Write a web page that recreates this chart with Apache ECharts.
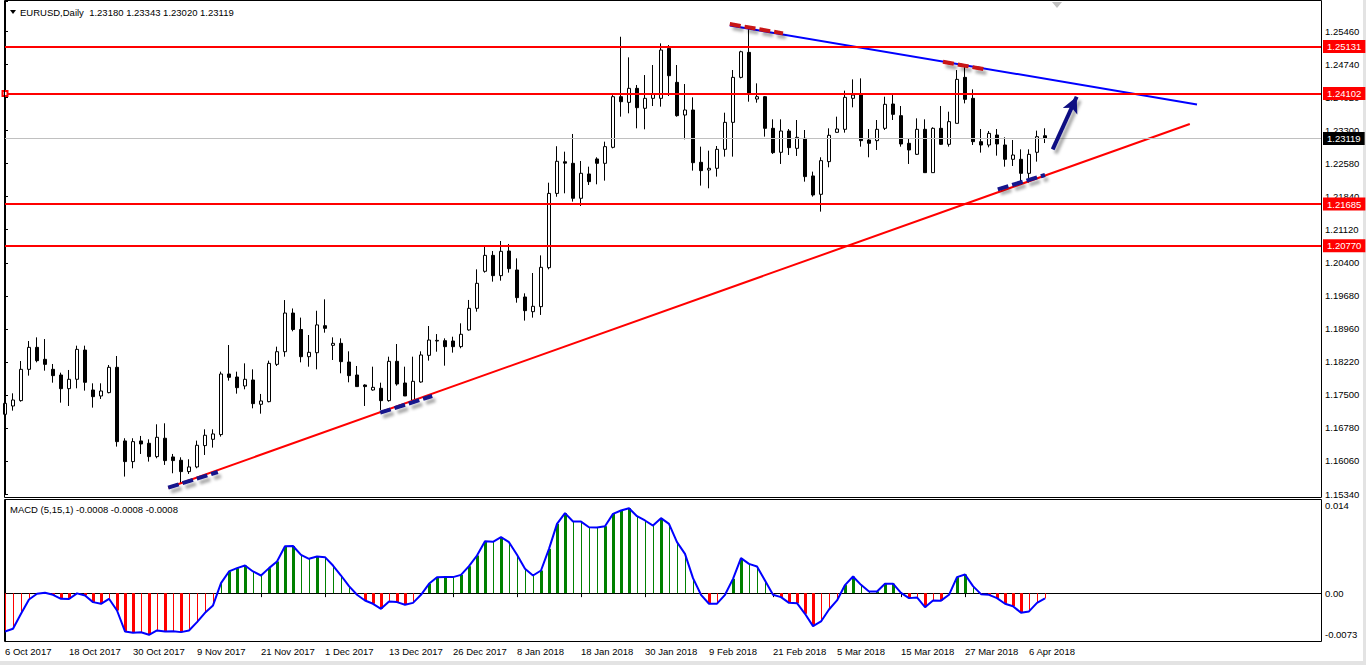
<!DOCTYPE html>
<html><head><meta charset="utf-8">
<script src="https://cdn.jsdelivr.net/npm/echarts@6/dist/echarts.min.js"></script>
<style>html,body{margin:0;padding:0;background:#fff;overflow:hidden}#c{width:1366px;height:665px}</style>
</head><body><div id="c"></div>
<script>
// ---------- data ----------
const tickLabels = ['6 Oct 2017','18 Oct 2017','30 Oct 2017','9 Nov 2017','21 Nov 2017','1 Dec 2017','13 Dec 2017','26 Dec 2017','8 Jan 2018','18 Jan 2018','30 Jan 2018','9 Feb 2018','21 Feb 2018','5 Mar 2018','15 Mar 2018','27 Mar 2018','6 Apr 2018'];
const priceTicks = ['1.15340','1.16060','1.16780','1.17500','1.18220','1.18960','1.19680','1.20400','1.21120','1.21840','1.22580','1.23300','1.24020','1.24740','1.25460'];
const macdTicks = ['-0.0073','0.00','','0.014'];

const open = [1.17084,1.17266,1.17383,1.18068,1.18549,1.18287,1.18068,1.17944,1.17645,1.17850,
1.18490,1.17616,1.17485,1.17558,1.18112,1.16501,1.16049,1.16501,1.16450,1.16158,
1.16560,1.16151,1.16078,1.15830,1.15932,1.16399,1.16537,1.16640,1.17966,1.17900,
1.17704,1.17835,1.17303,1.17361,1.18177,1.18454,1.19300,1.18940,1.18345,1.18432,
1.19023,1.18593,1.18637,1.18228,1.17944,1.17725,1.17616,1.17653,1.17383,1.18243,
1.17769,1.17390,1.17791,1.18374,1.18688,1.18695,1.18688,1.18565,1.18930,1.19403,
1.20213,1.20562,1.20118,1.20657,1.20242,1.19651,1.19330,1.19440,1.20293,1.21918,
1.22610,1.22576,1.21811,1.22343,1.22671,1.22576,1.22926,1.24034,1.23910,1.24217,
1.23780,1.23998,1.23998,1.25091,1.24348,1.23633,1.23743,1.22598,1.22430,1.22467,
1.22882,1.23473,1.24457,1.25004,1.23983,1.24034,1.23342,1.22817,1.23283,1.22904,
1.23123,1.22300,1.21898,1.22613,1.23254,1.23320,1.23998,1.24093,1.23087,1.23072,
1.23342,1.23874,1.23619,1.23014,1.22773,1.23320,1.22372,1.23342,1.22992,1.23451,
1.24457,1.23998,1.23050,1.22977,1.23196,1.22977,1.22664,1.22664,1.22357,1.22817,
1.23180];
const high = [1.17361,1.17543,1.18250,1.18688,1.18768,1.18731,1.18185,1.17995,1.18054,1.18586,
1.18586,1.17762,1.17762,1.18163,1.18360,1.16560,1.16560,1.16610,1.16537,1.16865,
1.16887,1.16216,1.16143,1.16100,1.16508,1.16756,1.16756,1.18017,1.18600,1.18017,
1.18199,1.18068,1.17529,1.18258,1.18564,1.19584,1.19400,1.19200,1.18819,1.19350,
1.19600,1.18768,1.18746,1.18462,1.18141,1.17740,1.18126,1.17776,1.18345,1.18622,
1.18126,1.18345,1.18462,1.19016,1.18840,1.18746,1.18782,1.19075,1.19586,1.20256,
1.20752,1.20657,1.20876,1.20810,1.20497,1.19731,1.20176,1.20562,1.22152,1.22950,
1.22831,1.23218,1.22627,1.22503,1.22708,1.23050,1.24070,1.25346,1.24895,1.24290,
1.24508,1.24727,1.25201,1.25164,1.24727,1.24311,1.24020,1.22941,1.22853,1.22955,
1.23684,1.24618,1.25040,1.25550,1.24326,1.24049,1.23539,1.23539,1.23327,1.23524,
1.23305,1.22394,1.22708,1.23342,1.23597,1.24166,1.24413,1.24435,1.23327,1.23524,
1.24034,1.24093,1.23830,1.23123,1.23560,1.23539,1.23364,1.23830,1.23706,1.24617,
1.24727,1.24195,1.23327,1.23283,1.23327,1.23145,1.23086,1.22882,1.22882,1.23291,
1.23343];
const low = [1.16683,1.17164,1.17361,1.17930,1.18221,1.18039,1.17776,1.17339,1.17266,1.17653,
1.17602,1.17230,1.17419,1.17543,1.16377,1.15721,1.15903,1.16216,1.16049,1.16122,
1.15976,1.15794,1.15560,1.15779,1.15903,1.16194,1.16355,1.16596,1.17820,1.17536,
1.17631,1.17215,1.17098,1.17346,1.18141,1.18345,1.18900,1.18221,1.18126,1.18068,
1.18870,1.18272,1.17981,1.17784,1.17690,1.17266,1.17602,1.17179,1.17361,1.17711,
1.17485,1.17376,1.17776,1.18258,1.18454,1.18148,1.18433,1.18529,1.18915,1.19330,
1.20184,1.19987,1.20008,1.20184,1.19527,1.19134,1.19199,1.19258,1.20256,1.21845,
1.21920,1.21738,1.21643,1.22102,1.22117,1.22197,1.22904,1.23597,1.23670,1.23342,
1.23320,1.23830,1.23816,1.24049,1.23597,1.23101,1.22416,1.22088,1.22030,1.22285,
1.22722,1.22722,1.24435,1.23925,1.23903,1.23160,1.22781,1.22562,1.22759,1.22737,
1.22175,1.21847,1.21519,1.22489,1.23247,1.23247,1.23801,1.22941,1.22708,1.22868,
1.23305,1.23524,1.22941,1.22562,1.22759,1.22372,1.22372,1.22977,1.22941,1.23451,
1.23888,1.22977,1.22810,1.22926,1.22744,1.22503,1.22518,1.22153,1.22153,1.22613,
1.23020];
const close = [1.17324,1.17397,1.18068,1.18549,1.18258,1.18177,1.17930,1.17645,1.17850,1.18505,
1.17784,1.17470,1.17594,1.18112,1.16486,1.16049,1.16486,1.16435,1.16158,1.16581,
1.16071,1.16071,1.15830,1.15932,1.16406,1.16625,1.16654,1.17966,1.17893,1.17667,
1.17850,1.17317,1.17376,1.18199,1.18454,1.19300,1.18940,1.18345,1.18440,1.19040,
1.18965,1.18637,1.18236,1.17930,1.17690,1.17690,1.17674,1.17383,1.18243,1.17747,
1.17485,1.17806,1.18382,1.18709,1.18702,1.18564,1.18564,1.18835,1.19403,1.19950,
1.20562,1.20118,1.20650,1.20271,1.19637,1.19352,1.19447,1.20300,1.21918,1.22620,
1.22580,1.21811,1.22358,1.22175,1.22576,1.22941,1.24034,1.23925,1.24217,1.23794,
1.23998,1.24093,1.25055,1.24494,1.23619,1.23743,1.22590,1.22416,1.22467,1.22882,
1.23473,1.24457,1.25018,1.24093,1.24034,1.23342,1.22810,1.23283,1.22919,1.23145,
1.22285,1.21884,1.22635,1.23189,1.23327,1.24020,1.24070,1.23072,1.23014,1.23320,
1.23867,1.23648,1.22999,1.22868,1.23320,1.22372,1.23342,1.22992,1.23488,1.24413,
1.23976,1.23050,1.22977,1.23232,1.22999,1.22664,1.22758,1.22357,1.22773,1.23159,
1.23119];
const macd = [-0.00576,-0.00536,-0.00311,-0.00096,-0.00010,0.00005,-0.00025,-0.00085,-0.00089,-0.00004,
-0.00035,-0.00135,-0.00160,-0.00085,-0.00261,-0.00576,-0.00596,-0.00589,-0.00626,-0.00561,
-0.00576,-0.00572,-0.00586,-0.00561,-0.00436,-0.00296,-0.00185,0.00150,0.00326,0.00376,
0.00415,0.00326,0.00265,0.00376,0.00476,0.00706,0.00708,0.00576,0.00516,0.00551,
0.00541,0.00415,0.00265,0.00105,-0.00025,-0.00110,-0.00160,-0.00236,-0.00125,-0.00135,
-0.00175,-0.00146,-0.00025,0.00140,0.00240,0.00243,0.00241,0.00275,0.00405,0.00566,
0.00781,0.00772,0.00841,0.00766,0.00576,0.00365,0.00265,0.00340,0.00666,0.01041,
0.01202,0.01077,0.01075,0.00991,0.00987,0.01006,0.01192,0.01242,0.01277,0.01156,
0.01092,0.01016,0.01127,0.01041,0.00766,0.00591,0.00225,-0.00025,-0.00160,-0.00158,
-0.00025,0.00215,0.00526,0.00440,0.00401,0.00190,-0.00025,-0.00060,-0.00146,-0.00151,
-0.00311,-0.00496,-0.00426,-0.00246,-0.00110,0.00121,0.00250,0.00125,0.00025,0.00026,
0.00140,0.00142,0.00005,-0.00075,-0.00065,-0.00211,-0.00110,-0.00113,-0.00025,0.00240,
0.00280,0.00105,-0.00015,-0.00025,-0.00075,-0.00160,-0.00196,-0.00296,-0.00275,-0.00146,
-0.00080];
const levels = [1.25131, 1.24102, 1.21685, 1.20770];
const lastPrice = 1.23119;
const headerText = 'EURUSD,Daily  1.23180 1.23343 1.23020 1.23119';
const macdText = 'MACD (5,15,1) -0.0008 -0.0008 -0.0008';
// annotation anchors: [bar index, price]
const risingTrend = [[20.4, 1.15478], [148.1, 1.23436]];
const fallingTrend = [[90.6, 1.25593], [149.0, 1.23864]];
const lowMarks = [[[20.4, 1.15478], [26.6, 1.15821]], [[46.9, 1.17119], [53.4, 1.17484]], [[124.1, 1.22007], [130.0, 1.22320]]];
const highMarks = [[[90.6, 1.25624], [97.25, 1.25420]], [[117.25, 1.24799], [122.5, 1.24632]]];
const arrowPts = [[130.96, 1.22882], [133.96, 1.24033]];

// ---------- chart ----------
const FONT = '"Liberation Sans", Arial, sans-serif';
const FS = 9.5;
const chart = echarts.init(document.getElementById('c'), null, {renderer: 'svg'});

const candles = open.map((o, i) => [i, o, close[i], low[i], high[i]]);
const hist = macd.map((v, i) => [i, v, i ? macd[i - 1] : 0]);
const dateTickPos = tickLabels.map((_, k) => k * 8);

const shadow = {shadowColor: 'rgba(0,0,0,0.35)', shadowBlur: 3, shadowOffsetX: 3, shadowOffsetY: 4};
const markData = [];
markData.push([{coord: risingTrend[0], lineStyle: {color: '#ff0000', width: 2, type: 'solid'}}, {coord: risingTrend[1]}]);
markData.push([{coord: fallingTrend[0], lineStyle: {color: '#0000ff', width: 2, type: 'solid'}}, {coord: fallingTrend[1]}]);
levels.forEach((v, k) => {
  markData.push({
    yAxis: v,
    symbol: k === 1 ? 'emptyRect' : 'none', symbolSize: 5,
    lineStyle: {color: '#ff0000', width: 2, type: 'solid'},
    label: {show: true, position: 'end', distance: 2, formatter: () => v.toFixed(5),
      color: '#fff', backgroundColor: '#ff0000', padding: [2, 4, 1, 4], fontSize: FS, fontFamily: FONT}
  });
});
markData.push({
  yAxis: lastPrice, symbol: 'none',
  lineStyle: {color: '#c0c0c0', width: 1, type: 'solid'},
  label: {show: true, position: 'end', distance: 2, formatter: () => lastPrice.toFixed(5),
    color: '#fff', backgroundColor: '#000', padding: [2, 4, 1, 4], fontSize: FS, fontFamily: FONT}
});
lowMarks.forEach(seg => markData.push([{coord: seg[0], lineStyle: Object.assign({color: '#14148c', width: 4, type: [11, 4], cap: 'butt'}, shadow)}, {coord: seg[1]}]));
highMarks.forEach(seg => markData.push([{coord: seg[0], lineStyle: Object.assign({color: '#c81414', width: 4, type: [11, 4], cap: 'butt'}, shadow)}, {coord: seg[1]}]));
markData.push([{coord: arrowPts[0], symbol: 'none', lineStyle: Object.assign({color: '#0f0f82', width: 4, type: 'solid'}, shadow)},
               {coord: arrowPts[1], symbol: 'arrow', symbolSize: [12, 16]}]);

const option = {
  animation: false,
  backgroundColor: '#fff',
  textStyle: {fontFamily: FONT},
  grid: [
    {left: 5, width: 1316, top: 1, height: 493},
    {left: 5, width: 1316, top: 500, height: 141.7}
  ],
  xAxis: [
    {gridIndex: 0, type: 'value', min: 0, max: 164.5, interval: 8,
     axisLine: {show: false}, axisTick: {show: false}, axisLabel: {show: false}, splitLine: {show: false}},
    {gridIndex: 1, type: 'value', min: 0, max: 164.5, interval: 8,
     axisLine: {show: true, lineStyle: {color: '#000', width: 1}},
     axisTick: {show: true, length: 4, lineStyle: {color: '#000'}, customValues: dateTickPos},
     axisLabel: {show: true, margin: 5, align: 'left', color: '#000', fontSize: FS, fontFamily: FONT,
       customValues: dateTickPos,
       formatter: v => { const k = v / 8; return Number.isInteger(k) && tickLabels[k] ? tickLabels[k] : ''; }},
     splitLine: {show: false}}
  ],
  yAxis: [
    {gridIndex: 0, type: 'value', position: 'right', min: 1.1534, max: 1.26128, interval: 0.1012 / 14,
     axisLine: {show: true, lineStyle: {color: '#000'}},
     axisTick: {show: true, length: 3, lineStyle: {color: '#000'}},
     axisLabel: {show: true, margin: 4, color: '#000', fontSize: FS, fontFamily: FONT,
       formatter: (v, i) => priceTicks[i] || ''},
     splitLine: {show: false}},
    {gridIndex: 1, type: 'value', position: 'right', min: -0.0073, max: 0.014, interval: 0.0073,
     axisLine: {show: true, lineStyle: {color: '#000'}},
     axisTick: {show: false},
     axisLabel: {show: true, margin: 4, color: '#000', fontSize: FS, fontFamily: FONT,
       formatter: (v, i) => i === 0 ? '{b|' + macdTicks[0] + '}' : (i === 3 ? '{t|' + macdTicks[3] + '}' : (macdTicks[i] || '')),
       rich: {t: {padding: [11, 0, 0, 0], fontSize: FS, color: '#000', fontFamily: FONT},
              b: {padding: [0, 0, 15, 0], fontSize: FS, color: '#000', fontFamily: FONT}}},
     splitLine: {show: false}}
  ],
  series: [
    {
      type: 'candlestick', xAxisIndex: 0, yAxisIndex: 0,
      data: candles, encode: {x: 0, y: [1, 2, 3, 4]},
      barWidth: 4,
      itemStyle: {color: '#ffffff', color0: '#000000', borderColor: '#000000', borderColor0: '#000000', borderWidth: 1},
      emphasis: {disabled: true},
      markLine: {silent: true, animation: false, symbol: 'none', precision: 5,
        label: {show: false}, emphasis: {disabled: true}, data: markData}
    },
    {
      type: 'custom', xAxisIndex: 1, yAxisIndex: 1, data: hist, encode: {x: 0, y: 1},
      renderItem: (params, api) => {
        const i = api.value(0), v = api.value(1), pv = api.value(2);
        const p0 = api.coord([i, 0]), p1 = api.coord([i, v]);
        const thick = i > 0 && Math.abs(v) > Math.abs(pv);
        const w = thick ? 3 : 1;
        const xc = Math.round(p0[0]);
        return {type: 'rect',
          shape: {x: thick ? xc - 1 : xc, y: Math.min(p0[1], p1[1]), width: w, height: Math.max(Math.abs(p1[1] - p0[1]), 0.5)},
          style: {fill: v >= 0 ? '#008000' : '#ff0000'}};
      },
      silent: true
    },
    {
      type: 'line', xAxisIndex: 1, yAxisIndex: 1,
      data: macd.map((v, i) => [i, v]), showSymbol: false, symbol: 'none',
      lineStyle: {color: '#0000ff', width: 2}, silent: true, z: 5
    }
  ],
  graphic: [
    {type: 'rect', shape: {x: 4.5, y: 0.5, width: 1317, height: 497}, style: {fill: 'none', stroke: '#000', lineWidth: 1}, silent: true, z: 10},
    {type: 'rect', shape: {x: 4.5, y: 499.5, width: 1317, height: 142}, style: {fill: 'none', stroke: '#000', lineWidth: 1}, silent: true, z: 10},
    {type: 'rect', shape: {x: 1363, y: 0, width: 3, height: 665}, style: {fill: '#e3e3e3'}, silent: true},
    {type: 'rect', shape: {x: 0, y: 661, width: 1366, height: 4}, style: {fill: '#e3e3e3'}, silent: true},
    {type: 'polygon', shape: {points: [[10, 10], [16, 10], [13, 14]]}, style: {fill: '#000'}, silent: true},
    {type: 'polygon', shape: {points: [[1052, 2], [1062, 2], [1057, 8]]}, style: {fill: '#c0c0c0'}, silent: true},
    {type: 'text', left: 20, top: 7, style: {text: headerText, fill: '#000', font: FS + 'px ' + FONT}, silent: true},
    {type: 'text', left: 10, top: 504, style: {text: macdText, fill: '#000', font: FS + 'px ' + FONT}, silent: true}
  ]
};
chart.setOption(option);
</script></body></html>
